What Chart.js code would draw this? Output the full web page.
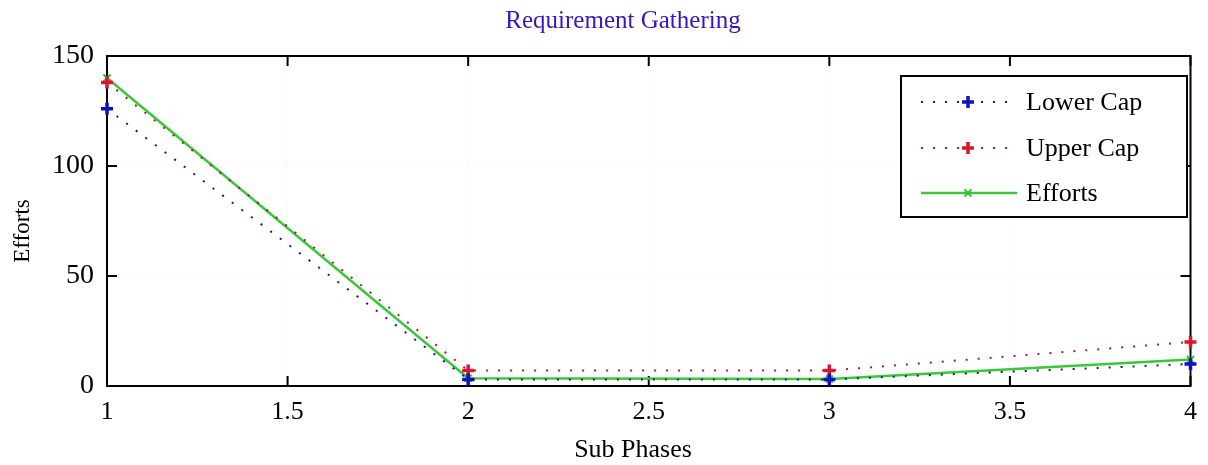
<!DOCTYPE html>
<html>
<head>
<meta charset="utf-8">
<script src="https://cdn.jsdelivr.net/npm/chart.js@4/dist/chart.umd.min.js"></script>
<style>
html,body{margin:0;padding:0;background:#fff;}
#wrap{width:1208px;height:465px;}
</style>
</head>
<body>
<div id="wrap"><canvas id="c" width="1208" height="465"></canvas></div>
<script>
const subPhases = [1, 2, 3, 4];
const lowerCap = [126, 3, 3, 10];
const upperCap = [138, 7, 7, 20];
const efforts = [140, 3.5, 3.2, 12];
const xTickValues = [1, 1.5, 2, 2.5, 3, 3.5, 4];
const yTickValues = [0, 50, 100, 150];
const seriesNames = ['Lower Cap', 'Upper Cap', 'Efforts'];
const chartTitle = 'Requirement Gathering';
const xTitle = 'Sub Phases';
const yTitle = 'Efforts';

const FONT = '"Liberation Serif", "Times New Roman", serif';

function pts(vals) { return subPhases.map((x, i) => ({x: x, y: vals[i]})); }

const decor = {
  id: 'decor',
  beforeDatasetsDraw(chart) {
    const {ctx, chartArea: a} = chart;
    const xs = chart.scales.x, ys = chart.scales.y;
    ctx.save();
    ctx.strokeStyle = '#000';
    ctx.lineWidth = 2;
    ctx.strokeRect(a.left, a.top, a.right - a.left, a.bottom - a.top);
    ctx.beginPath();
    xTickValues.forEach(v => {
      const px = xs.getPixelForValue(v);
      ctx.moveTo(px, a.bottom); ctx.lineTo(px, a.bottom - 10);
      ctx.moveTo(px, a.top); ctx.lineTo(px, a.top + 10);
    });
    yTickValues.forEach(v => {
      const py = ys.getPixelForValue(v);
      ctx.moveTo(a.left, py); ctx.lineTo(a.left + 10, py);
      ctx.moveTo(a.right, py); ctx.lineTo(a.right - 10, py);
    });
    ctx.stroke();
    ctx.restore();
  },
  afterDraw(chart) {
    const {ctx} = chart;
    ctx.save();
    ctx.fillStyle = '#3a14c0';
    ctx.font = '25px ' + FONT;
    ctx.textAlign = 'center';
    ctx.textBaseline = 'middle';
    ctx.fillText(chartTitle, 623, 21);
    ctx.fillStyle = '#000';
    ctx.font = '26px ' + FONT;
    ctx.fillText(xTitle, 633, 450);
    ctx.save();
    ctx.translate(23, 231);
    ctx.rotate(-Math.PI / 2);
    ctx.font = '23px ' + FONT;
    ctx.fillText(yTitle, 0, 0);
    ctx.restore();
    const bx = 901, by = 76, bw = 286, bh = 141;
    ctx.fillStyle = '#fff';
    ctx.fillRect(bx, by, bw, bh);
    ctx.strokeStyle = '#000';
    ctx.lineWidth = 2;
    ctx.strokeRect(bx, by, bw, bh);
    const rows = [102, 148, 193];
    chart.data.datasets.forEach((ds, i) => {
      const y = rows[i];
      ctx.save();
      ctx.strokeStyle = ds.borderColor;
      ctx.lineWidth = ds.borderWidth;
      ctx.setLineDash(ds.borderDash || []);
      ctx.beginPath();
      ctx.moveTo(921, y); ctx.lineTo(1017, y);
      ctx.stroke();
      ctx.setLineDash([]);
      ctx.strokeStyle = ds.pointBorderColor;
      ctx.fillStyle = ds.pointBackgroundColor;
      ctx.lineWidth = ds.pointBorderWidth;
      Chart.helpers.drawPoint(ctx, {pointStyle: ds.pointStyle, radius: ds.pointRadius, rotation: 0, borderWidth: ds.pointBorderWidth}, 968, y);
      ctx.restore();
      ctx.fillStyle = '#000';
      ctx.font = '26px ' + FONT;
      ctx.textAlign = 'left';
      ctx.textBaseline = 'middle';
      ctx.fillText(ds.label, 1026, y + 1);
    });
    ctx.restore();
  }
};

new Chart(document.getElementById('c'), {
  type: 'line',
  data: {
    datasets: [
      {
        label: seriesNames[0], data: pts(lowerCap),
        borderColor: '#1a1a80', borderWidth: 2, borderDash: [2, 10],
        pointStyle: 'cross', pointRadius: 6, pointBorderWidth: 3.5,
        pointBorderColor: '#1010c0', pointBackgroundColor: '#1010c0',
        tension: 0, clip: false
      },
      {
        label: seriesNames[1], data: pts(upperCap),
        borderColor: '#a02030', borderWidth: 2, borderDash: [2, 10],
        pointStyle: 'cross', pointRadius: 6, pointBorderWidth: 3.5,
        pointBorderColor: '#d81830', pointBackgroundColor: '#d81830',
        tension: 0, clip: false
      },
      {
        label: seriesNames[2], data: pts(efforts),
        borderColor: '#38c838', borderWidth: 2.5, borderDash: [],
        pointStyle: 'crossRot', pointRadius: 5, pointBorderWidth: 2,
        pointBorderColor: '#30c030', pointBackgroundColor: '#30c030',
        tension: 0, clip: false
      }
    ]
  },
  options: {
    responsive: false,
    animation: false,
    events: [],
    layout: {padding: {top: 56, left: 0, right: 9, bottom: 0}},
    plugins: {legend: {display: false}, title: {display: false}, tooltip: {enabled: false}},
    scales: {
      x: {
        type: 'linear', min: 1, max: 4,
        afterFit(s) { s.height = 79; },
        afterBuildTicks(s) { s.ticks = xTickValues.map(v => ({value: v})); },
        grid: {color: 'rgba(0,0,0,0.06)', drawTicks: false},
        border: {display: false, dash: [1, 4]},
        ticks: {
          padding: 11, color: '#000', maxRotation: 0, autoSkip: false,
          font: {family: FONT, size: 26},
          callback: v => String(v)
        }
      },
      y: {
        type: 'linear', min: 0, max: 150,
        afterFit(s) { s.width = 107; },
        afterBuildTicks(s) { s.ticks = yTickValues.map(v => ({value: v})); },
        grid: {color: 'rgba(0,0,0,0.06)', drawTicks: false},
        border: {display: false, dash: [1, 4]},
        ticks: {
          padding: 13, color: '#000',
          font: {family: FONT, size: 28},
          callback: v => String(v)
        }
      }
    }
  },
  plugins: [decor]
});
</script>
</body>
</html>
